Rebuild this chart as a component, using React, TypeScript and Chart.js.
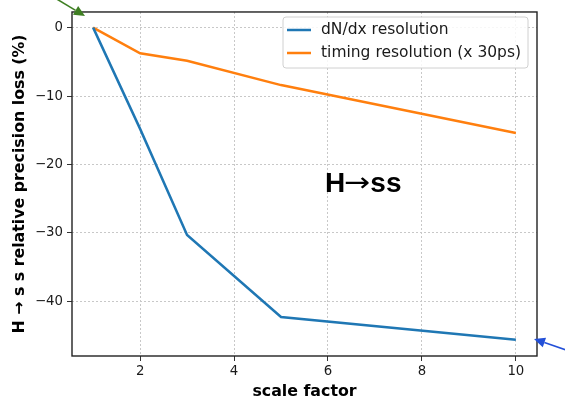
import React, { useEffect, useRef } from "react";
import { Chart, registerables } from "chart.js";

Chart.register(...registerables);

const scaleFactors = [1, 2, 3, 5, 10];
const dndxLoss = [0, -14.8, -30.3, -42.3, -45.6];
const timingLoss = [0, -3.75, -4.85, -8.4, -15.4];
const seriesLabels = ["dN/dx resolution", "timing resolution (x 30ps)"];
const seriesColors = ["#1f77b4", "#ff7f0e"];
const xTicks = [2, 4, 6, 8, 10];
const yTicks = [0, -10, -20, -30, -40];
const xTitle = "scale factor";
const yTitle = "H \u2192 s s relative precision loss (%)";
const annotationParts = ["H", "\u2192", "ss"];

const fmt = (v: number) => (v < 0 ? "\u2212" + Math.abs(v) : String(v));

const decor = {
  id: "decor",
  afterDatasetsDraw(chart: any) {
    const { ctx, chartArea: a } = chart;
    ctx.save();
    // frame
    ctx.strokeStyle = "#222";
    ctx.lineWidth = 1.4;
    ctx.strokeRect(a.left, a.top, a.right - a.left, a.bottom - a.top);
    // legend
    const lx = 283, ly = 17, lw = 245, lh = 51, r = 3;
    ctx.beginPath();
    ctx.moveTo(lx + r, ly);
    ctx.lineTo(lx + lw - r, ly);
    ctx.arcTo(lx + lw, ly, lx + lw, ly + r, r);
    ctx.lineTo(lx + lw, ly + lh - r);
    ctx.arcTo(lx + lw, ly + lh, lx + lw - r, ly + lh, r);
    ctx.lineTo(lx + r, ly + lh);
    ctx.arcTo(lx, ly + lh, lx, ly + lh - r, r);
    ctx.lineTo(lx, ly + r);
    ctx.arcTo(lx, ly, lx + r, ly, r);
    ctx.closePath();
    ctx.fillStyle = "rgba(255,255,255,0.85)";
    ctx.fill();
    ctx.strokeStyle = "#d0d0d0";
    ctx.lineWidth = 1;
    ctx.stroke();
    ctx.font = "15.5px 'DejaVu Sans'";
    ctx.textBaseline = "middle";
    ctx.fillStyle = "#1a1a1a";
    seriesLabels.forEach((lab, i) => {
      const y = 30 + i * 23;
      ctx.strokeStyle = seriesColors[i];
      ctx.lineWidth = 2.5;
      ctx.beginPath();
      ctx.moveTo(287, y);
      ctx.lineTo(311, y);
      ctx.stroke();
      ctx.fillText(lab, 321, y);
    });
    // annotation
    ctx.textBaseline = "alphabetic";
    ctx.fillStyle = "#000";
    let x = 325;
    const baseY = 192;
    ctx.font = "bold 28px 'Liberation Sans'";
    ctx.fillText(annotationParts[0], x, baseY);
    x += ctx.measureText(annotationParts[0]).width;
    ctx.font = "26px 'DejaVu Sans'";
    const aw = ctx.measureText(annotationParts[1]).width;
    ctx.save();
    ctx.translate(x - 1, baseY - 1);
    ctx.scale(1.2, 1);
    ctx.fillText(annotationParts[1], 0, 0);
    ctx.restore();
    x += aw * 1.2 - 1;
    ctx.font = "bold 28px 'Liberation Sans'";
    ctx.fillText(annotationParts[2], x, baseY);
    // arrows
    const arrow = (x1: number, y1: number, x2: number, y2: number, col: string) => {
      ctx.strokeStyle = col;
      ctx.fillStyle = col;
      ctx.lineWidth = 1.6;
      const ang = Math.atan2(y2 - y1, x2 - x1);
      const hl = 11, hw = 5;
      const bx = x2 - hl * Math.cos(ang), by = y2 - hl * Math.sin(ang);
      ctx.beginPath();
      ctx.moveTo(x1, y1);
      ctx.lineTo(bx, by);
      ctx.stroke();
      ctx.beginPath();
      ctx.moveTo(x2, y2);
      ctx.lineTo(bx + hw * Math.sin(ang), by - hw * Math.cos(ang));
      ctx.lineTo(bx - hw * Math.sin(ang), by + hw * Math.cos(ang));
      ctx.closePath();
      ctx.fill();
    };
    arrow(50, -5, 85, 16, "#3f7f23");
    arrow(575, 353, 534, 339, "#2350d8");
    ctx.restore();
  },
};

export default function App() {
  const ref = useRef<HTMLCanvasElement>(null);
  useEffect(() => {
    if (!ref.current) return;
    const tickFont = { family: "'DejaVu Sans'", size: 13.3 };
    const titleFont = { family: "'DejaVu Sans'", size: 15.8, weight: "bold" as const, lineHeight: 1 };
    const chart = new Chart(ref.current, {
      type: "line",
      data: {
        datasets: [dndxLoss, timingLoss].map((vals, i) => ({
          label: seriesLabels[i],
          data: scaleFactors.map((x, j) => ({ x, y: vals[j] })),
          borderColor: seriesColors[i],
          backgroundColor: seriesColors[i],
          borderWidth: 2.5,
          pointRadius: 0,
          tension: 0,
          fill: false,
        })),
      },
      options: {
        animation: false,
        responsive: false,
        devicePixelRatio: 1,
        layout: { padding: { top: 9, right: 28, left: 0, bottom: 0 } },
        plugins: { legend: { display: false }, tooltip: { enabled: false } },
        scales: {
          x: {
            type: "linear",
            min: 0.55,
            max: 10.45,
            afterBuildTicks: (s: any) => {
              s.ticks = xTicks.map((v) => ({ value: v }));
            },
            afterFit: (s: any) => {
              s.height = 42;
            },
            ticks: { font: tickFont, color: "#1a1a1a", padding: 3, maxRotation: 0, callback: (v: any) => fmt(Number(v)) },
            grid: { color: "#c8c8c8", lineWidth: 1, tickLength: 5, tickColor: "#333", tickWidth: 1 },
            border: { display: false, dash: [2, 2] },
            title: { display: true, text: xTitle, font: titleFont, color: "#000", padding: { top: 0, bottom: -2 } },
          },
          y: {
            type: "linear",
            min: -47.99,
            max: 2.285,
            afterBuildTicks: (s: any) => {
              s.ticks = yTicks.map((v) => ({ value: v }));
            },
            afterFit: (s: any) => {
              s.width = 72;
            },
            ticks: { font: tickFont, color: "#1a1a1a", padding: 4, callback: (v: any) => fmt(Number(v)) },
            grid: { color: "#c8c8c8", lineWidth: 1, tickLength: 5, tickColor: "#333", tickWidth: 1 },
            border: { display: false, dash: [2, 2] },
            title: { display: true, text: yTitle, font: titleFont, color: "#000", padding: { top: 12, bottom: 0 } },
          },
        },
      },
      plugins: [decor],
    });
    return () => chart.destroy();
  }, []);
  return (
    <div style={{ position: "fixed", left: 0, top: 0, width: 565, height: 398, background: "#fff" }}>
      <canvas ref={ref} width={565} height={398} />
    </div>
  );
}
